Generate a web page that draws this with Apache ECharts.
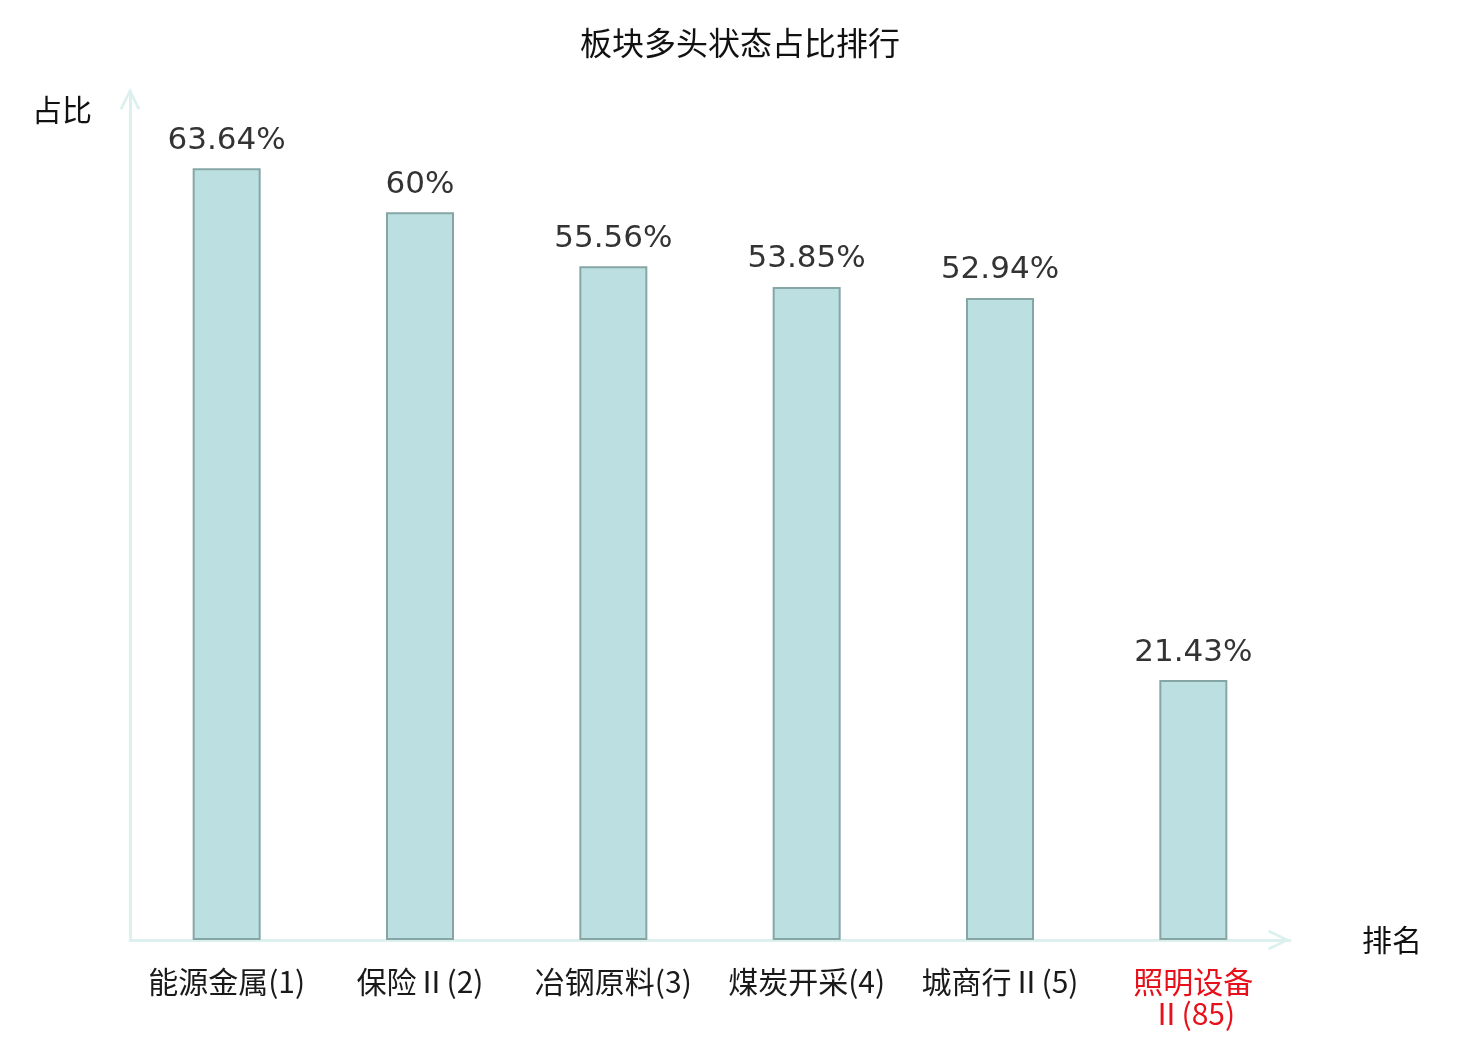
<!DOCTYPE html>
<html lang="zh">
<head>
  <meta charset="UTF-8">
  <title>板块多头状态占比排行</title>
  <script src="https://cdn.jsdelivr.net/npm/echarts@6/dist/echarts.min.js"></script>
  <style>
    body { margin: 0; background: #fff; }
    #chart { width: 1480px; height: 1040px; }
  </style>
</head>
<body>
<div id="chart"></div>
<script>
  // 行业名称(排名) 与 多头占比(%)
  const categories = ['能源金属(1)', '保险Ⅱ(2)', '冶钢原料(3)', '煤炭开采(4)', '城商行Ⅱ(5)', '照明设备Ⅱ(85)']
  const ratios = [63.64, 60, 55.56, 53.85, 52.94, 21.43]
  const highlightIndex = 5

  const cjk = '"Noto Sans CJK SC", "Noto Sans", sans-serif'
  const axisColor = '#dcf1ee'
  // 空心箭头（实心折线形状）
  const arrow = 'path://M0,20 L10,0 L20,20 L17.6,21.4 L10,5.6 L2.4,21.4 Z'

  const chart = echarts.init(document.getElementById('chart'))
  const option = {
    animation: false,
    title: {
      text: '板块多头状态占比排行',
      left: 'center',
      top: 22,
      textStyle: { fontFamily: cjk, fontSize: 32, fontWeight: 'normal', color: '#111' }
    },
    grid: { left: 130, right: 190, top: 91, bottom: 100, containLabel: false },
    xAxis: {
      type: 'category',
      data: categories,
      name: '排名',
      nameGap: 72,
      nameTextStyle: { fontFamily: cjk, fontSize: 30, color: '#111' },
      axisLine: {
        lineStyle: { color: axisColor, width: 3 },
        symbol: ['none', arrow],
        symbolSize: [24, 22],
        symbolOffset: [0, -11]
      },
      axisTick: { show: false },
      axisLabel: {
        // 数字和括号用细体，中文回退到思源黑体
        fontFamily: '"DejaVu Sans ExtraLight", "Noto Sans CJK SC", sans-serif',
        fontSize: 30,
        lineHeight: 32,
        margin: 26,
        interval: 0,
        // 最后一项过长，按原图在 Ⅱ 前换行
        formatter: (v, i) => i === highlightIndex ? v.replace('Ⅱ', '\nⅡ') : v,
        color: (v, i) => i === highlightIndex ? '#e8101a' : '#1a1a1a'
      }
    },
    yAxis: {
      type: 'value',
      min: 0,
      max: 70,
      name: '占比',
      nameGap: -34,
      nameTextStyle: { fontFamily: cjk, fontSize: 30, color: '#111', align: 'right', padding: [0, 38, 0, 0] },
      axisLine: {
        show: true,
        lineStyle: { color: axisColor, width: 3 },
        symbol: ['none', arrow],
        symbolSize: [22, 22],
        symbolOffset: [0, -8]
      },
      axisTick: { show: false },
      axisLabel: { show: false },
      splitLine: { show: false }
    },
    series: [{
      type: 'bar',
      data: ratios,
      barWidth: 68,
      itemStyle: { color: '#bce0e2', borderColor: '#86a6a6', borderWidth: 2 },
      label: {
        show: true,
        position: 'top',
        distance: 12,
        formatter: p => p.value + '%',
        fontFamily: '"DejaVu Sans", sans-serif',
        fontSize: 31,
        color: '#333'
      }
    }]
  }
  chart.setOption(option)
</script>
</body>
</html>
